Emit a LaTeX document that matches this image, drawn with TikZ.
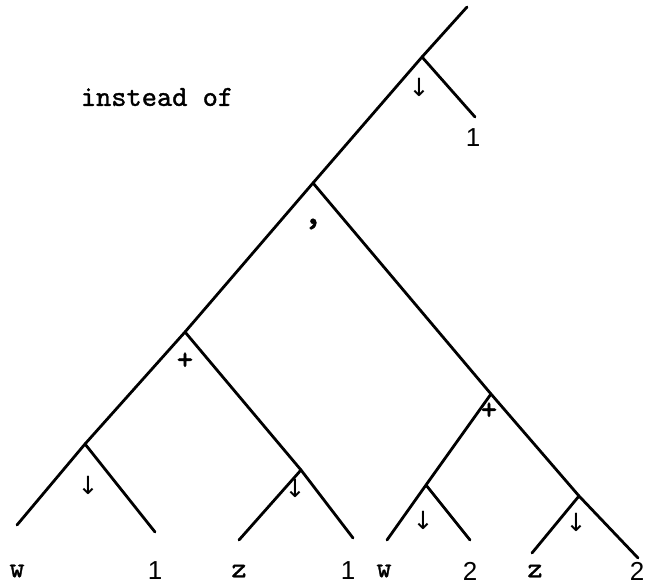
\documentclass[tikz,border=0pt]{standalone}
\usepackage{fontspec}
\newfontfamily\digitfont{Liberation Sans}
\newfontfamily\typefont[FakeBold=1.2]{lmmono10-regular.otf}
\newfontfamily\symfont{DejaVu Sans}
\usetikzlibrary{positioning}
\tikzset{
    branch/.style={line width=2.8pt, line cap=round, line join=round},
    letterlbl/.style={font=\typefont\fontsize{29}{29}\selectfont, inner sep=0pt},
    digitlbl/.style={font=\digitfont\fontsize{26}{26}\selectfont, inner sep=0pt},
    oplbl/.style={font=\typefont\fontsize{32}{32}\selectfont, inner sep=0pt},
    arrowlbl/.style={font=\symfont\fontsize{25}{25}\selectfont, inner sep=0pt}
}

\begin{document}
\begin{tikzpicture}[x=1pt,y=-1pt]
    \useasboundingbox (0,0) rectangle (648,585);

    % Caption on the left
    \node[letterlbl] (caption) at (157,97) {instead of};

    % Junctions of the tree
    \coordinate (top) at (467,7);
    \coordinate (n1) at (422,57);
    \coordinate (n2) at (313,183);
    \coordinate (n3) at (185,332);
    \coordinate (n4) at (491,394);
    \coordinate (n5) at (85,444);
    \coordinate (n6) at (301,470);
    \coordinate (n7) at (426,485);
    \coordinate (n8) at (579,496);

    % Free ends of the branches
    \coordinate (e0) at (475,117);
    \coordinate (e1) at (17,525);
    \coordinate (e2) at (155,532);
    \coordinate (e3) at (239,540);
    \coordinate (e4) at (353,538);
    \coordinate (e5) at (387,540);
    \coordinate (e6) at (470,540);
    \coordinate (e7) at (532,553);
    \coordinate (e8) at (638,558);

    % Branches
    \draw[branch] (top) -- (n1) -- (n2) -- (n3) -- (n5) -- (e1);
    \draw[branch] (n1) -- (e0);
    \draw[branch] (n2) -- (n4) -- (n8) -- (e8);
    \draw[branch] (n3) -- (n6) -- (e4);
    \draw[branch] (n5) -- (e2);
    \draw[branch] (n6) -- (e3);
    \draw[branch] (n4) -- (n7) -- (e5);
    \draw[branch] (n7) -- (e6);
    \draw[branch] (n8) -- (e7);

    % Operators under the junctions
    \node[arrowlbl] (op1) at (419,87) {↓};
    \node[oplbl, font=\typefont\fontsize{40}{40}\selectfont] (op2) at (313,224) {,};
    \node[oplbl] (op3) at (185,361) {+};
    \node[oplbl] (op4) at (489,411) {+};
    \node[arrowlbl] (op5) at (88,485) {↓};
    \node[arrowlbl] (op6) at (295,488) {↓};
    \node[arrowlbl] (op7) at (423,520) {↓};
    \node[arrowlbl] (op8) at (576,522) {↓};

    % Leaf labels
    \node[digitlbl] (top1) at (473,138) {1};
    \node[letterlbl] (w1) at (17,571) {w};
    \node[digitlbl] (one1) at (155,571) {1};
    \node[letterlbl] (z1) at (239,571) {z};
    \node[digitlbl] (one2) at (348,571) {1};
    \node[letterlbl] (w2) at (384,571) {w};
    \node[digitlbl] (two1) at (470,571) {2};
    \node[letterlbl] (z2) at (535,571) {z};
    \node[digitlbl] (two2) at (637,571) {2};
\end{tikzpicture}
\end{document}
